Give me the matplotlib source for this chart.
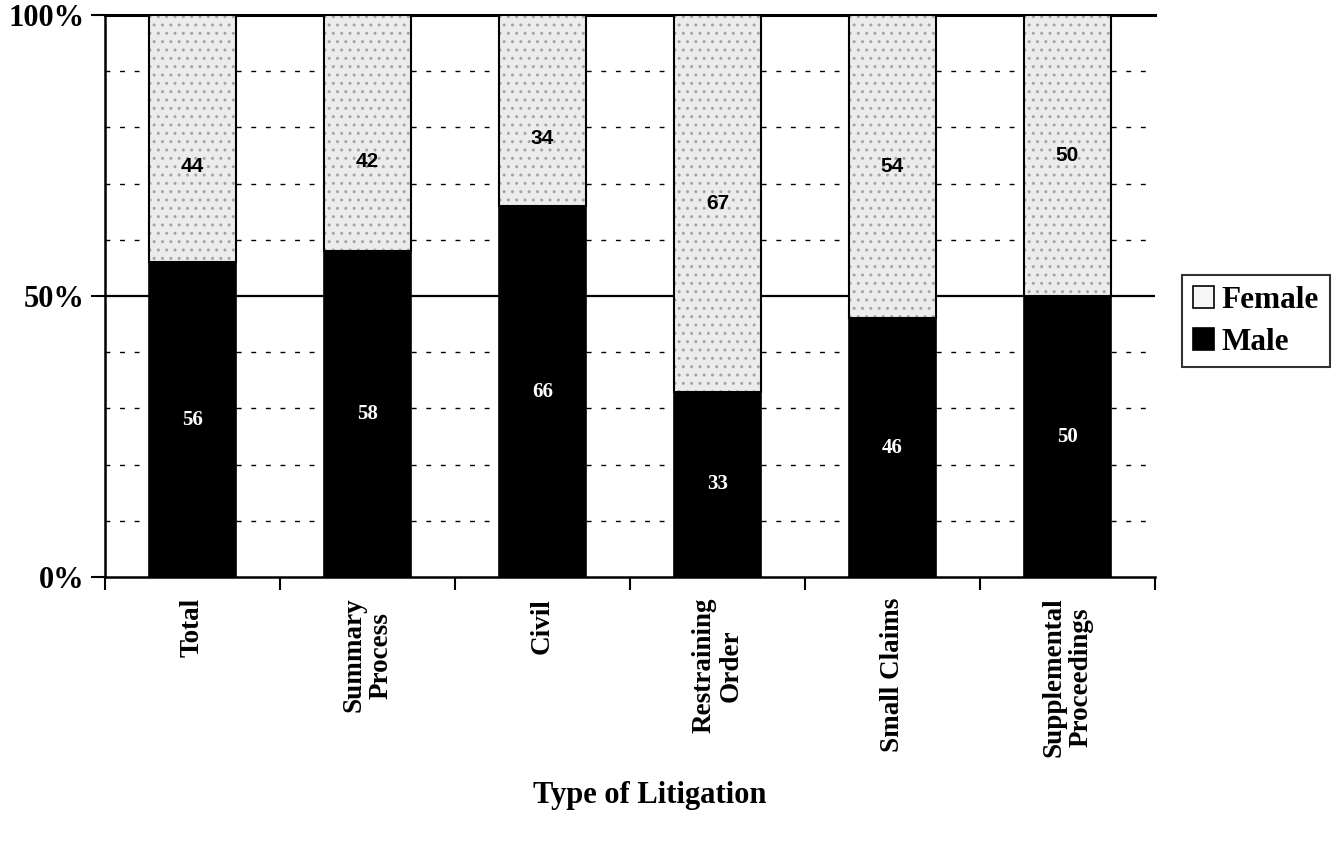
import matplotlib.pyplot as plt
from matplotlib.patches import Patch
import numpy as np

categories = ['Total', 'Summary\nProcess', 'Civil', 'Restraining\nOrder', 'Small Claims', 'Supplemental\nProceedings']
male = [56, 58, 66, 33, 46, 50]
female = [44, 42, 34, 67, 54, 50]

plt.rcParams['font.family'] = ['Liberation Serif', 'DejaVu Serif']

fig = plt.figure(figsize=(13.4, 8.67), dpi=100)
ax = fig.add_axes([105/1340, 1-577/867, 1050/1340, 562/867])

x = np.arange(len(categories))
ax.bar(x, male, width=0.5, color='black', edgecolor='black', linewidth=1.2, zorder=3)
# stippled fill for female, then black outline on top
ax.bar(x, female, width=0.5, bottom=male, color='#ececec', edgecolor='#a5a5a5', linewidth=0,
       hatch='..', zorder=3)
ax.bar(x, female, width=0.5, bottom=male, fill=False, edgecolor='black', linewidth=1.5, zorder=3)

# female labels on the first three bars sit a bit below the middle
label_dy = [-5, -5, -5, 0, 0, 0]
for i in range(len(categories)):
    ax.text(x[i], male[i] / 2, str(male[i]), color='white', ha='center', va='center',
            fontsize=15, fontweight='bold', zorder=4)
    ax.text(x[i], male[i] + female[i] / 2 + label_dy[i], str(female[i]), color='black',
            ha='center', va='center', fontsize=15, fontweight='bold',
            family=['Liberation Sans', 'DejaVu Sans'], zorder=4)

# grid lines
for y in range(10, 100, 10):
    if y == 50:
        ax.axhline(y, color='black', linewidth=1.6, zorder=1)
    else:
        ax.axhline(y, color='black', linewidth=1, linestyle=(0, (3.5, 7)), zorder=1)
ax.axhline(100, color='black', linewidth=2.2, zorder=1, clip_on=False)

ax.set_xlim(-0.5, len(categories) - 0.5)
ax.set_ylim(0, 100)
ax.set_yticks([0, 50, 100])
ax.set_yticklabels(['0%', '50%', '100%'], fontsize=22, fontweight='bold')
ax.set_xticks(x)
ax.set_xticklabels(categories, rotation=90, fontsize=19.5, fontweight='bold', va='top', ha='center',
                   multialignment='center', linespacing=1.15)
ax.tick_params(axis='x', length=0, pad=15)
ax.set_xticks(np.arange(-0.5, len(categories) + 0.5, 1), minor=True)
ax.tick_params(axis='x', which='minor', length=9, width=1.5, direction='out')
ax.tick_params(axis='y', length=10, width=1.5, direction='out', pad=5)

for s in ['left', 'bottom']:
    ax.spines[s].set_linewidth(1.8)
ax.spines['top'].set_visible(False)
ax.spines['right'].set_visible(False)

fig.text(650/1340, 1 - 795/867, 'Type of Litigation', ha='center', va='center',
         fontsize=22, fontweight='bold')

handles = [Patch(facecolor='#f6f6f6', edgecolor='black', linewidth=1.2),
           Patch(facecolor='black', edgecolor='black', linewidth=1.2)]
leg = ax.legend(handles, ['Female', 'Male'], loc='center left', bbox_to_anchor=(1.026, 0.455),
                frameon=True, fancybox=False, edgecolor='black',
                prop={'weight': 'bold', 'size': 22.5}, handlelength=0.65, handleheight=0.7,
                handletextpad=0.25, borderpad=0.35, labelspacing=0.4, borderaxespad=0)
leg.get_frame().set_linewidth(1.5)

fig.savefig('out.png', dpi=100)
